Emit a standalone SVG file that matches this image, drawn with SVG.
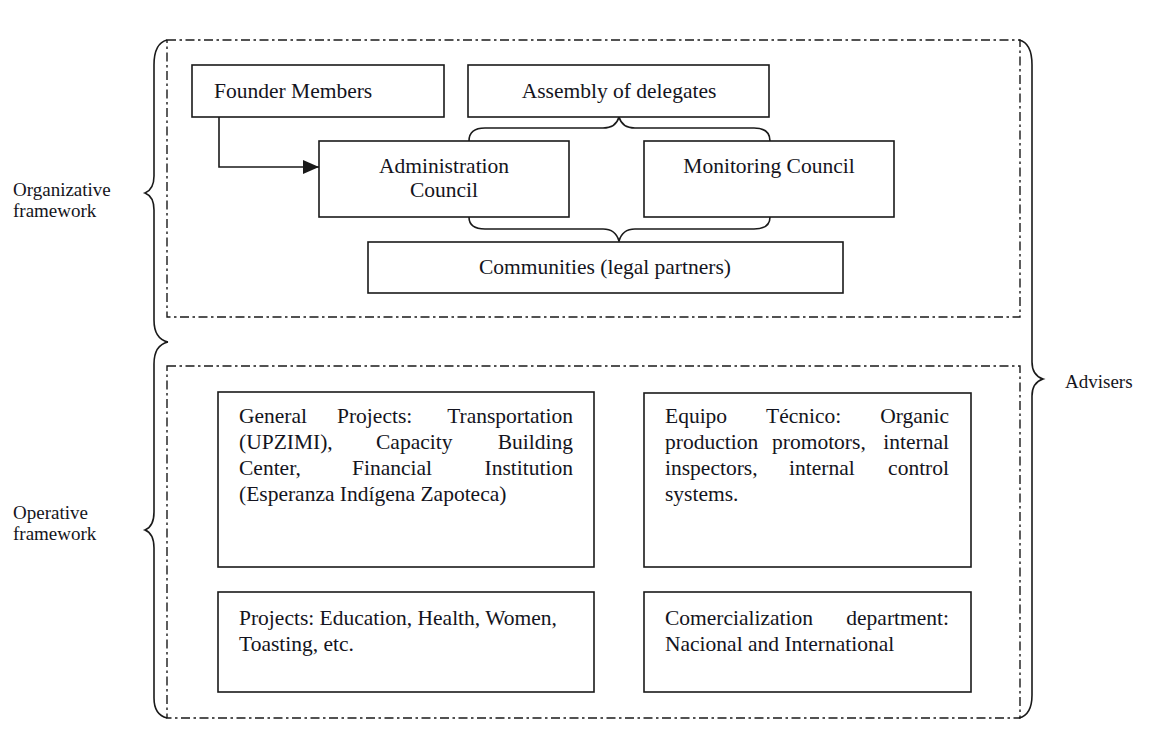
<svg xmlns="http://www.w3.org/2000/svg" width="1156" height="747" viewBox="0 0 1156 747">
<style>
.bg{fill:#fff}
.box{fill:#fff;stroke:#1a1a1a;stroke-width:1.6}
.frame{fill:none;stroke:#1a1a1a;stroke-width:1.4;stroke-dasharray:9 3.5 2.5 3.5}
.brace{fill:none;stroke:#1a1a1a;stroke-width:1.6}
.line{fill:none;stroke:#1a1a1a;stroke-width:1.6}
text{font-family:"Liberation Serif","Times New Roman",serif;fill:#141420}
.t{font-size:21.5px}
.s{font-size:19px}
.c{text-anchor:middle}
.e{text-anchor:end}
</style>
<defs>
<marker id="arr" markerWidth="16" markerHeight="14" refX="16" refY="7" orient="auto" markerUnits="userSpaceOnUse">
<path d="M0,0 L16,7 L0,14 Z" fill="#1a1a1a"/>
</marker>
</defs>
<rect class="bg" x="0" y="0" width="1156" height="747"/>

<g id="frames">
<rect id="organizative-frame" class="frame" x="167" y="40" width="853" height="277"/>
<rect id="operative-frame" class="frame" x="167" y="366" width="853" height="352"/>
</g>

<g id="braces">
<path class="brace" d="M167,40 C159,42 154,50 154,65 L154,176 C154,187 150,191 145,193 C150,195 154,199 154,210 L154,320 C154,333 159,340 168,342"/>
<path class="brace" d="M168,342 C159,344 154,351 154,364 L154,512 C154,523 150,528 145,530 C150,532 154,537 154,548 L154,698 C154,710 159,716 167,718"/>
<path class="brace" d="M1019,40 C1028,42 1032,50 1032,65 L1032,362 C1032,372 1037,377 1043,379 C1037,381 1032,386 1032,396 L1032,695 C1032,708 1027,716 1019,718"/>
<path class="brace" d="M469,141 C469,133 474,128 485,128 L603,128 C612,128 617,124 619,117 C621,124 626,128 635,128 L754,128 C765,128 770,133 770,141"/>
<path class="brace" d="M469,217 C469,225 474,229 485,229 L603,229 C612,229 617,234 619,241 C621,234 626,229 635,229 L754,229 C765,229 770,225 770,217"/>
</g>

<g id="labels">
<text class="s" x="13" y="196">Organizative</text>
<text class="s" x="13" y="217">framework</text>
<text class="s" x="13" y="519">Operative</text>
<text class="s" x="13" y="540">framework</text>
<text class="s" x="1065" y="388">Advisers</text>
</g>

<g id="connectors">
<path class="line" d="M219,117 L219,167 L319,167" marker-end="url(#arr)"/>
</g>

<g id="founder-members">
<rect class="box" x="192" y="65" width="252" height="52"/>
<text class="t" x="214" y="98">Founder Members</text>
</g>

<g id="assembly">
<rect class="box" x="468" y="65" width="301" height="52"/>
<text class="t c" x="619" y="98">Assembly of delegates</text>
</g>

<g id="administration-council">
<rect class="box" x="319" y="141" width="250" height="76"/>
<text class="t c" x="444" y="173">Administration</text>
<text class="t c" x="444" y="197">Council</text>
</g>

<g id="monitoring-council">
<rect class="box" x="644" y="141" width="250" height="76"/>
<text class="t c" x="769" y="173">Monitoring Council</text>
</g>

<g id="communities">
<rect class="box" x="368" y="242" width="475" height="51"/>
<text class="t c" x="605" y="274">Communities (legal partners)</text>
</g>

<g id="general-projects">
<rect class="box" x="218" y="392" width="376" height="175"/>
<text class="t" x="239" y="423">General</text>
<text class="t" x="337" y="423">Projects:</text>
<text class="t e" x="573" y="423">Transportation</text>
<text class="t" x="239" y="449">(UPZIMI),</text>
<text class="t" x="376" y="449">Capacity</text>
<text class="t e" x="573" y="449">Building</text>
<text class="t" x="239" y="475">Center,</text>
<text class="t" x="352" y="475">Financial</text>
<text class="t e" x="573" y="475">Institution</text>
<text class="t" x="239" y="501">(Esperanza Indígena Zapoteca)</text>
</g>

<g id="projects">
<rect class="box" x="218" y="592" width="376" height="100"/>
<text class="t" x="239" y="625">Projects: Education, Health, Women,</text>
<text class="t" x="239" y="651">Toasting, etc.</text>
</g>

<g id="equipo-tecnico">
<rect class="box" x="644" y="393" width="327" height="174"/>
<text class="t" x="665" y="423">Equipo</text>
<text class="t" x="766" y="423">Técnico:</text>
<text class="t e" x="949" y="423">Organic</text>
<text class="t" x="665" y="449">production</text>
<text class="t" x="772" y="449">promotors,</text>
<text class="t e" x="949" y="449">internal</text>
<text class="t" x="665" y="475">inspectors,</text>
<text class="t" x="789" y="475">internal</text>
<text class="t e" x="949" y="475">control</text>
<text class="t" x="665" y="501">systems.</text>
</g>

<g id="comercialization">
<rect class="box" x="644" y="592" width="327" height="100"/>
<text class="t" x="665" y="625">Comercialization</text>
<text class="t e" x="949" y="625">department:</text>
<text class="t" x="665" y="651">Nacional and International</text>
</g>
</svg>
